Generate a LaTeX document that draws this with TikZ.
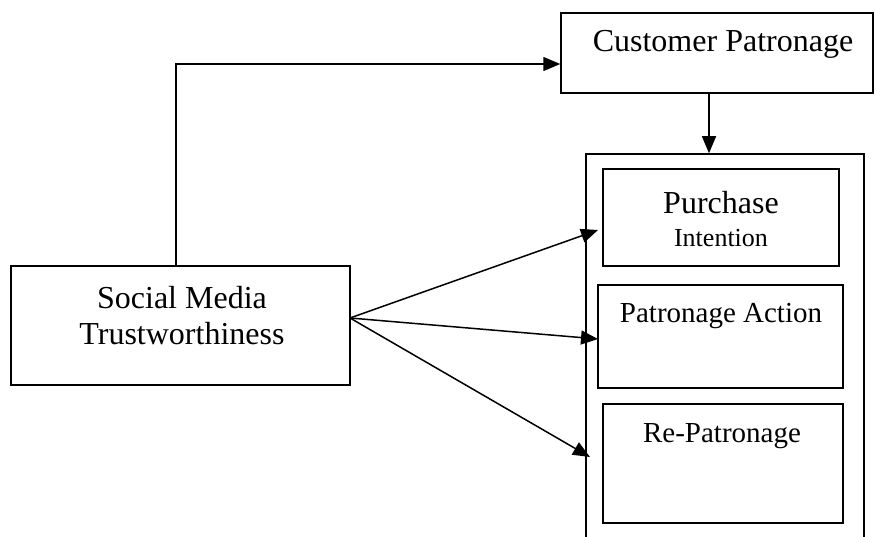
\documentclass[tikz,border=0pt]{standalone}
\usepackage{fontspec}
\setmainfont{Liberation Serif}
\usetikzlibrary{arrows.meta}
\begin{document}
\begin{tikzpicture}[x=1pt,y=-1pt,
  box/.style={draw,line width=1.5pt,rectangle,inner sep=0pt},
  txt/.style={inner sep=0pt,align=center},
  arr/.style={line width=1.5pt,-{Triangle[length=17pt,width=14pt]}}]
\useasboundingbox (0,0) rectangle (876,537);
\clip (0,0) rectangle (876,537);
% boxes
\node[box,minimum width=312pt,minimum height=80pt] (cust) at (717,53) {};
\node[txt,font=\fontsize{32}{38}\selectfont] (custt) at (723,44) {Customer Patronage};
\node[box,minimum width=278pt,minimum height=420pt] (outer) at (725,364) {};
\node[box,minimum width=236pt,minimum height=97pt] (pi) at (721,217.5) {};
\node[txt,font=\fontsize{32}{38}\selectfont] (pit) at (721,203) {Purchase};
\node[txt,font=\fontsize{26}{30}\selectfont] (pit2) at (721,238) {Intention};
\node[box,minimum width=245pt,minimum height=103pt] (pa) at (720.5,336.5) {};
\node[txt,font=\fontsize{29}{34}\selectfont] (pat) at (721,316) {Patronage Action};
\node[box,minimum width=240pt,minimum height=119pt] (rp) at (723,463.5) {};
\node[txt,font=\fontsize{29}{34}\selectfont] (rpt) at (722,436) {Re-Patronage};
\node[box,minimum width=339pt,minimum height=119pt] (soc) at (180.5,325.5) {};
\node[txt,font=\fontsize{32}{36}\selectfont] (soct) at (182,316) {Social Media\\Trustworthiness};
% connector points
\coordinate (src) at (350,318);
\coordinate (e1) at (598,230);
\coordinate (e2) at (598,339);
\coordinate (e3) at (590,457);
% connectors
\draw[arr] ([xshift=-4.5pt]soc.north) |- ([yshift=-11pt]cust.west);
\draw[arr] ([xshift=-8pt]cust.south) -- (outer.north -| 709,0);
\draw[arr] (src) -- (e1);
\draw[arr] (src) -- (e2);
\draw[arr] (src) -- (e3);
\end{tikzpicture}
\end{document}
